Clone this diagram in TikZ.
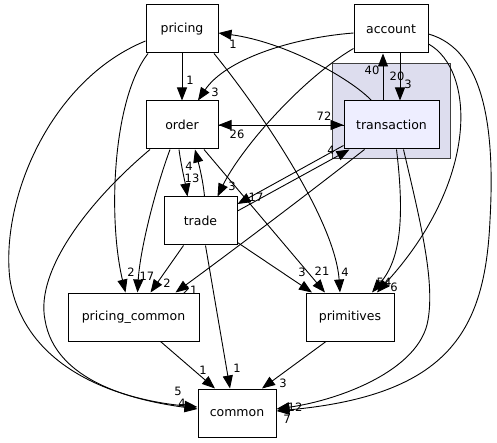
\documentclass[tikz,border=0pt]{standalone}
\usepackage{fontspec}
\setmainfont{DejaVu Sans}
\usetikzlibrary{arrows.meta}
\definecolor{groupbg}{HTML}{DDDDEE}
\definecolor{txbg}{HTML}{EEEEFF}

\begin{document}
\begin{tikzpicture}[x=1pt,y=-1pt,line width=.9pt,
  dir/.style={draw,line width=1pt,inner sep=0pt,minimum height=48pt,font=\fontsize{12.5}{15}\selectfont},
  dep/.style={-{Triangle[length=13pt,width=10pt]}},
  num/.style={inner sep=0pt,font=\fontsize{11.5}{14}\selectfont}]
\path[use as bounding box] (0,0) rectangle (497,443);
\node[draw=black!75,fill=groupbg,line width=1pt,inner sep=0pt,minimum width=118pt,minimum height=95pt] (txgroup) at (391.5,111.5) {};
\node[dir,minimum width=72pt] (pricing) at (182,29) {pricing};
\node[dir,minimum width=74pt] (account) at (391,29) {account};
\node[dir,fill=txbg,minimum width=95pt] (transaction) at (391.5,125) {transaction};
\node[dir,minimum width=72pt] (order) at (182,125) {order};
\node[dir,minimum width=73pt] (trade) at (200.5,221) {trade};
\node[dir,minimum width=131pt] (pcommon) at (133.5,317) {pricing\_common};
\node[dir,minimum width=88pt] (primitives) at (350,317) {primitives};
\node[dir,minimum width=78pt] (common) at (237,413) {common};
\draw[dep] (pricing.south) -- (order.north);
\node[num] (n1) at (190,80) {1};
\draw[dep] ([yshift=-4]account.west) .. controls (290,38) and (225,60) .. ([xshift=16]order.north);
\node[num] (n2) at (215,92) {3};
\draw[dep] (transaction.west) -- (order.east);
\node[num] (n3) at (237,134) {26};
\draw[dep] (order.east) -- (transaction.west);
\node[num] (n4) at (324,116) {72};
\draw[dep] ([xshift=-20]transaction.north) .. controls (350,78) and (285,42) .. ([yshift=-4]pricing.east);
\node[num] (n5) at (233,44) {1};
\draw[dep] ([xshift=9]account.south) -- ([xshift=8.5]transaction.north);
\node[num] (n6) at (408,84) {3};
\draw[dep] ([xshift=-8.5]transaction.north) -- ([xshift=-8]account.south);
\node[num] (n7) at (372,70) {40};
\node[num] (n8) at (397,76) {20};
\draw[dep] ([yshift=5]account.south west) .. controls (300,80) and (240,150) .. ([xshift=17]trade.north);
\node[num] (n9) at (232,186) {3};
\draw[dep] ([xshift=32]pricing.south) .. controls (260,110) and (335,220) .. ([xshift=-10]primitives.north);
\node[num] (n10) at (345,272) {4};
\draw[dep] ([xshift=22]order.south) -- ([xshift=-25]primitives.north);
\node[num] (n11) at (322,271) {21};
\draw[dep] ([yshift=3]trade.south east) -- ([xshift=-38]primitives.north);
\node[num] (n12) at (302,272) {3};
\draw[dep] ([xshift=-3]order.south) .. controls (181,165) and (185,182) .. ([xshift=-13]trade.north);
\node[num] (n13) at (192,178) {13};
\draw[dep] ([xshift=4]trade.north) .. controls (203,180) and (199,165) .. ([xshift=13]order.south);
\node[num] (n14) at (189,166) {4};
\draw[dep] ([yshift=10]trade.east) -- ([xshift=6]transaction.south west);
\node[num] (n15) at (331,150) {4};
\draw[dep] ([yshift=4]transaction.south west) -- ([yshift=17]trade.east);
\node[num] (n16) at (256,197) {17};
\draw[dep] ([xshift=-27]transaction.south) .. controls (300,200) and (220,260) .. ([xshift=42]pcommon.north);
\node[num] (n17) at (190,290) {21};
\draw[dep] ([xshift=-17]trade.south) -- ([xshift=17]pcommon.north);
\node[num] (n18) at (167,283) {2};
\draw[dep] ([xshift=-12]order.south) .. controls (155,190) and (140,250) .. ([xshift=4]pcommon.north);
\node[num] (n19) at (147,276) {17};
\draw[dep] ([xshift=-34]pricing.south) .. controls (112,100) and (108,220) .. ([xshift=-8]pcommon.north);
\node[num] (n20) at (131,272) {2};
\draw[dep] ([yshift=-12]pricing.west) .. controls (50,80) and (0,200) .. (10,280) .. controls (25,370) and (120,400) .. ([yshift=6]common.west);
\node[num] (n21) at (178,391) {5};
\draw[dep] ([xshift=-32]order.south) .. controls (90,200) and (35,270) .. (45,320) .. controls (55,380) and (130,400) .. ([yshift=4]common.west);
\node[num] (n22) at (182,403) {4};
\draw[dep] ([xshift=27]pcommon.south) -- ([xshift=-22]common.north);
\node[num] (n23) at (203,370) {1};
\draw[dep] ([xshift=5]trade.south) -- ([xshift=-7]common.north);
\node[num] (n24) at (237,368) {1};
\draw[dep] ([xshift=-24]primitives.south) -- ([xshift=25]common.north);
\node[num] (n25) at (283,383) {3};
\draw[dep] ([xshift=12]transaction.south) .. controls (420,220) and (435,280) .. (428,320) .. controls (420,370) and (340,400) .. ([yshift=4]common.east);
\node[num] (n26) at (295,407) {12};
\draw[dep] ([yshift=-5]account.east) .. controls (485,50) and (495,130) .. (490,220) .. controls (485,330) and (450,395) .. ([yshift=2]common.east);
\node[num] (n27) at (287,419) {7};
\draw[dep] ([xshift=5]transaction.south) .. controls (405,220) and (400,260) .. ([xshift=22]primitives.north);
\node[num] (n28) at (384,282) {54};
\draw[dep] ([yshift=-15]account.east) .. controls (475,70) and (480,180) .. ([xshift=27]primitives.north);
\node[num] (n29) at (394,287) {6};
\end{tikzpicture}
\end{document}
